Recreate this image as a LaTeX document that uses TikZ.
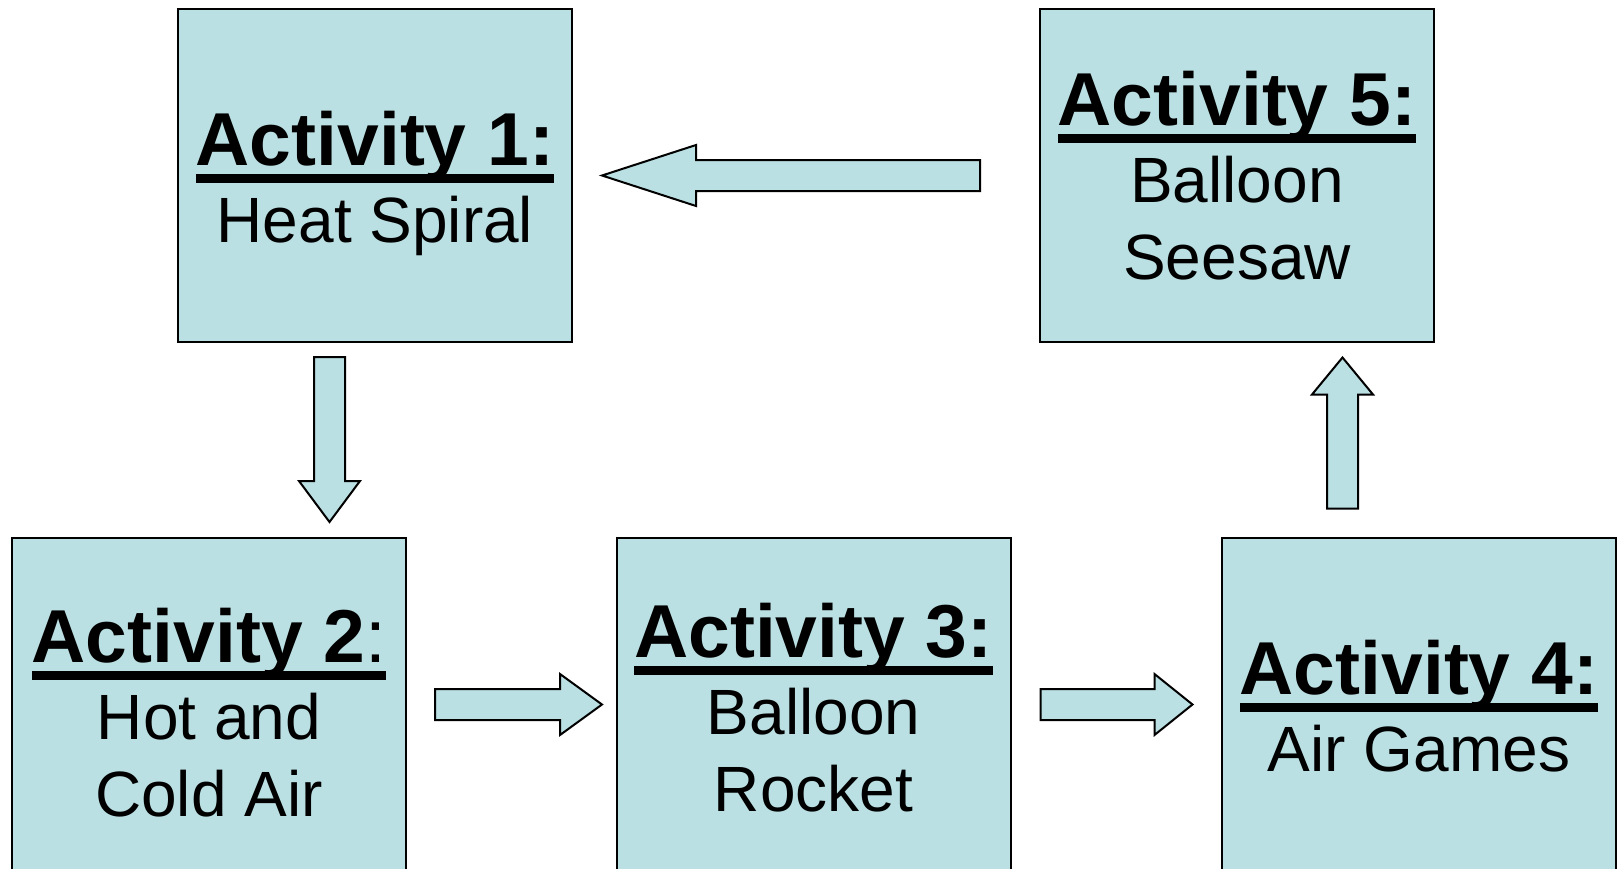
\documentclass[tikz,border=0pt]{standalone}
\usepackage{fontspec}
\setmainfont{Liberation Sans}
\usetikzlibrary{calc,positioning}
\definecolor{boxblue}{RGB}{187,224,227}
\newcommand{\acttitle}[2]{\setbox0\hbox{\fontsize{37.5}{39}\selectfont\bfseries #1#2}%
  \rlap{\fontsize{37.5}{39}\selectfont\bfseries\rule[-0.23em]{\wd0}{0.12em}}\box0}
\newcommand{\flowarrow}[4]{\draw[flow, shift={#1}, rotate=#2] (0,-15.5) -- (#3-#4,-15.5) -- (#3-#4,-30.5) -- (#3,0) -- (#3-#4,30.5) -- (#3-#4,15.5) -- (0,15.5) -- cycle;}
\tikzset{
  act/.style={draw=black, fill=boxblue, line width=1pt, minimum width=197pt, minimum height=166.5pt,
    inner sep=0pt, outer sep=0pt},
  acttext/.style={inner sep=0pt, align=center, font=\fontsize{32}{38.5}\selectfont},
  flow/.style={draw=black, fill=boxblue, line width=1pt, line join=miter}
}
\begin{document}
\begin{tikzpicture}[x=0.5pt, y=-0.5pt]
\useasboundingbox (0,0) rectangle (1618,868);
\node[act] (act1) at (375,175.5) {}; % Activity 1
\node[act, right=234pt of act1] (act5) {}; % Activity 5
\node[act] (act2) at (209,704.5) {}; % Activity 2
\node[act] (act3) at (813.5,704.5) {}; % Activity 3
\node[act] (act4) at (1419,704) {}; % Activity 4
\node[acttext] (t1) at ($(act1)+(0,8)$) {\acttitle{Activity 1:}{}\\Heat Spiral};
\node[acttext] (t5) at ($(act5)+(0,0)$) {\acttitle{Activity 5:}{}\\Balloon\\Seesaw};
\node[acttext] (t2) at ($(act2)+(0,8)$) {\acttitle{Activity 2}{\mdseries:}\\Hot and\\Cold Air};
\node[acttext] (t3) at ($(act3)+(0,3)$) {\acttitle{Activity 3:}{}\\Balloon\\Rocket};
\node[acttext] (t4) at ($(act4)+(0,2)$) {\acttitle{Activity 4:}{}\\Air Games};
\flowarrow{($(act5.west)+(-60,0)$)}{180}{378}{94} % 5 -> 1
\flowarrow{($(act1.south)+(-45.5,15)$)}{-90}{165}{41} % 1 -> 2
\flowarrow{($(act2.east)+(29,0)$)}{0}{167}{42} % 2 -> 3
\flowarrow{($(act3.east)+(30,0)$)}{0}{152}{38} % 3 -> 4
\flowarrow{($(act4.north)+(-76.5,-29)$)}{90}{151}{37} % 4 -> 5
\end{tikzpicture}
\end{document}
